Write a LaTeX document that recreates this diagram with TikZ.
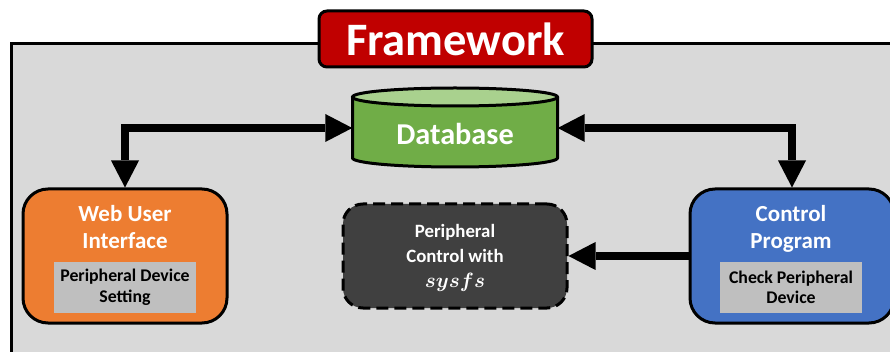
\documentclass[tikz,border=0pt]{standalone}
\usepackage{fontspec}
\setmainfont{Carlito}
\usetikzlibrary{arrows.meta}
\definecolor{bggray}{HTML}{D9D9D9}
\definecolor{fwred}{HTML}{C00000}
\definecolor{dbgreen}{HTML}{70AD47}
\definecolor{dbtop}{HTML}{A9D18E}
\definecolor{uiorange}{HTML}{ED7D31}
\definecolor{cpblue}{HTML}{4472C4}
\definecolor{pcdark}{HTML}{404040}
\definecolor{innergray}{HTML}{BFBFBF}
\tikzset{
  bigbox/.style={draw=black, line width=3pt, rounded corners=25pt, minimum width=204pt, minimum height=134pt, inner sep=0pt},
  innerbox/.style={fill=innergray, minimum width=142pt, minimum height=51pt, inner sep=0pt, align=center, text=black,
    font=\bfseries\fontsize{17.8}{20.5}\selectfont},
  titletext/.style={text=white, align=center, font=\bfseries\fontsize{23}{26.5}\selectfont},
  biarrow/.style={line width=8.5pt, {Triangle[length=27pt,width=28pt,line width=0pt]}-{Triangle[length=27pt,width=28pt,line width=0pt]}, line join=miter},
  onearrow/.style={line width=8.5pt, -{Triangle[length=27pt,width=28pt,line width=0pt]}}
}
\begin{document}
\begin{tikzpicture}[x=1pt,y=1pt]
\useasboundingbox (0,0) rectangle (890,-352);
\clip (0,0) rectangle (890,-352);
% outer frame
\draw[line width=3pt, fill=bggray] (11,-44) rectangle (920,-390);
% title
\node[draw=black, line width=3pt, fill=fwred, rounded corners=8pt, minimum width=273pt, minimum height=56pt, inner sep=0pt,
  text=white, font=\bfseries\fontsize{46.5}{46.5}\selectfont] (fw) at (455.5,-39) {Framework};
% database cylinder
\fill[dbgreen] (352.5,-97) -- (352.5,-158) arc[start angle=180, end angle=360, x radius=102.5, y radius=9] -- (557.5,-97) -- cycle;
\fill[dbtop] (455,-97) ellipse[x radius=102.5, y radius=9];
\draw[line width=3pt] (352.5,-97) -- (352.5,-158) arc[start angle=180, end angle=360, x radius=102.5, y radius=9] -- (557.5,-97);
\draw[line width=3pt] (455,-97) ellipse[x radius=102.5, y radius=9];
\node[minimum width=205pt, minimum height=60pt, inner sep=0pt] (db) at (455,-128) {};
\node[text=white, font=\bfseries\fontsize{30.3}{30.3}\selectfont] (dblabel) at (455,-134) {Database};
% web user interface
\node[bigbox, fill=uiorange] (ui) at (125,-256) {};
\node[titletext] (uititle) at (125,-227) {Web User\\Interface};
\node[innerbox] (uiinner) at (125,-287.5) {Peripheral Device\\Setting};
% peripheral control
\node[draw=black, line width=3pt, dash pattern=on 12pt off 6pt, fill=pcdark, rounded corners=20pt,
  minimum width=224pt, minimum height=104pt, inner sep=0pt] (pc) at (455,-256) {};
\node[text=white, align=center, font=\bfseries\fontsize{18.8}{25}\selectfont] (pctext) at (455,-258)
  {Peripheral\\Control with\\{\fontsize{21}{25}\selectfont\boldmath$sysfs$}};
% control program
\node[bigbox, fill=cpblue] (cp) at (792,-256) {};
\node[titletext] (cptitle) at (791,-229) {Control\\Program};
\node[innerbox] (cpinner) at (791,-287.5) {Check Peripheral\\Device};
% connectors
\draw[biarrow] (db.west) -| (ui.north);
\draw[biarrow] (db.east) -| (cp.north);
\draw[onearrow] (cp.west) -- (pc.east);
\end{tikzpicture}
\end{document}
